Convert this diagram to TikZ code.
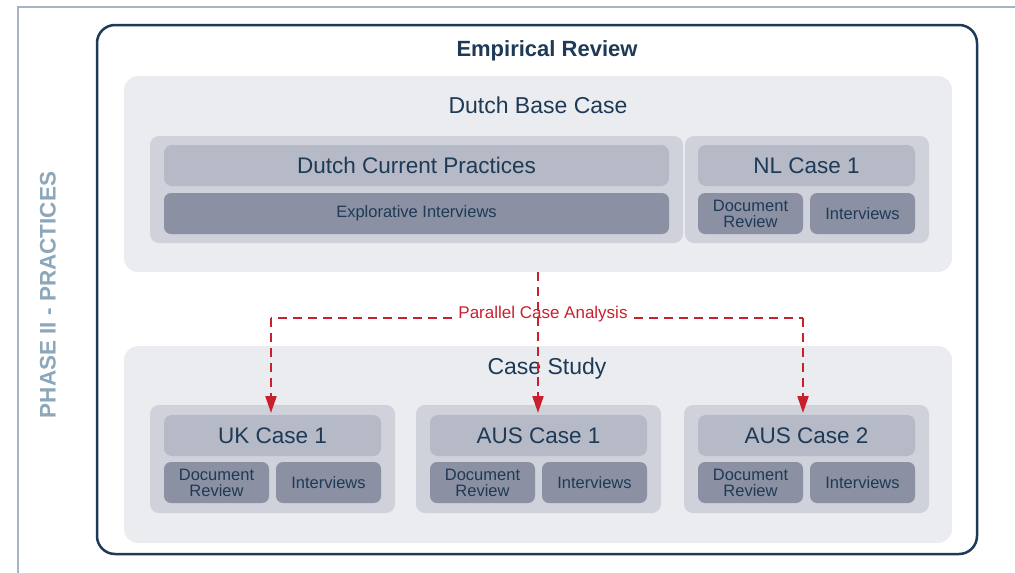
\documentclass[tikz,border=0pt]{standalone}
\usepackage{fontspec}
\setmainfont{Liberation Sans}
\usetikzlibrary{arrows.meta}
\definecolor{navy}{HTML}{1E3A56}
\definecolor{panelfill}{HTML}{EBECF0}
\definecolor{contfill}{HTML}{CFD2DB}
\definecolor{headfill}{HTML}{B6B9C6}
\definecolor{subfill}{HTML}{8B90A3}
\definecolor{framecol}{HTML}{A3B5C6}
\definecolor{phasecol}{HTML}{8CA6BA}
\definecolor{redcol}{HTML}{C8202E}
\tikzset{
  box/.style={anchor=north west, inner sep=0pt, outer sep=0pt, text=navy, align=center},
  panel/.style={box, fill=panelfill, rounded corners=14pt},
  cont/.style={box, fill=contfill, rounded corners=9pt},
  head/.style={box, fill=headfill, rounded corners=8pt, font=\fontsize{22.5}{26}\selectfont},
  sub/.style={box, fill=subfill, rounded corners=7pt, font=\fontsize{16.5}{16}\selectfont},
  title/.style={text=navy, inner sep=0pt},
  reddash/.style={draw=redcol, line width=2.2pt, dash pattern=on 9pt off 6pt},
  redarrow/.style={reddash, -{Triangle[length=17pt,width=11pt]}}
}
\begin{document}
\begin{tikzpicture}[x=1pt,y=-1pt]
\useasboundingbox (0,0) rectangle (1015,573);
% outer frame
\draw[framecol, line width=2pt] (18,573) -- (18,7) -- (1015,7);
\node[rotate=90, text=phasecol, font=\fontsize{22.5}{26}\selectfont\bfseries, inner sep=0pt] (phase) at (48,295) {PHASE II - PRACTICES};
% main box
\node[box, draw=navy, line width=2.5pt, rounded corners=18pt, minimum width=880pt, minimum height=529pt] (main) at (97,25) {};
\node[title, font=\fontsize{22}{26}\selectfont\bfseries] (er) at (547,51) {Empirical Review};
% Dutch base case
\node[panel, minimum width=828pt, minimum height=196pt] (dbc) at (124,76) {};
\node[title, font=\fontsize{23}{26}\selectfont] (dbct) at (538,105) {Dutch Base Case};
\node[cont, minimum width=533pt, minimum height=107pt] (dcpc) at (150,136) {};
\node[cont, minimum width=244pt, minimum height=107pt] (nlc) at (685,136) {};
\node[head, minimum width=505pt, minimum height=41pt] (dcp) at (164,145) {Dutch Current Practices};
\node[sub, minimum width=505pt, minimum height=41pt] (ei) at (164,193) {Explorative Interviews};
\node[head, minimum width=217pt, minimum height=41pt] (nlh) at (698,145) {NL Case 1};
\node[sub, minimum width=105pt, minimum height=41pt] (nld) at (698,193) {Document\\Review};
\node[sub, minimum width=105pt, minimum height=41pt] (nli) at (810,193) {Interviews};
% Case study
\node[panel, minimum width=828pt, minimum height=197pt] (cs) at (124,346) {};
\node[title, font=\fontsize{23}{26}\selectfont] (cst) at (547,369) {Case Study};
% UK
\node[cont, minimum width=245pt, minimum height=108pt] (ukc) at (150,405) {};
\node[head, minimum width=217pt, minimum height=41pt] (ukh) at (164,415) {UK Case 1};
\node[sub, minimum width=105pt, minimum height=41pt] (ukd) at (164,462) {Document\\Review};
\node[sub, minimum width=105pt, minimum height=41pt] (uki) at (276,462) {Interviews};
% AUS 1
\node[cont, minimum width=245pt, minimum height=108pt] (a1c) at (416,405) {};
\node[head, minimum width=217pt, minimum height=41pt] (a1h) at (430,415) {AUS Case 1};
\node[sub, minimum width=105pt, minimum height=41pt] (a1d) at (430,462) {Document\\Review};
\node[sub, minimum width=105pt, minimum height=41pt] (a1i) at (542,462) {Interviews};
% AUS 2
\node[cont, minimum width=245pt, minimum height=108pt] (a2c) at (684,405) {};
\node[head, minimum width=217pt, minimum height=41pt] (a2h) at (698,415) {AUS Case 2};
\node[sub, minimum width=105pt, minimum height=41pt] (a2d) at (698,462) {Document\\Review};
\node[sub, minimum width=105pt, minimum height=41pt] (a2i) at (810,462) {Interviews};
% parallel case analysis
\node[text=redcol, font=\fontsize{17}{20}\selectfont, inner sep=0pt] (pca) at (543,314) {Parallel Case Analysis};
\coordinate (top) at (538,272);
\coordinate (lbend) at (271,318);
\coordinate (rbend) at (803,318);
\coordinate (ukend) at (271,413);
\coordinate (a1end) at (538,413);
\coordinate (a2end) at (803,413);
\draw[redarrow] (top) -- (a1end);
\draw[reddash] ([xshift=-6pt]pca.west |- lbend) -- (lbend);
\draw[redarrow] (lbend) -- (ukend);
\draw[reddash] ([xshift=6pt]pca.east |- rbend) -- (rbend);
\draw[redarrow] (rbend) -- (a2end);
\end{tikzpicture}
\end{document}
